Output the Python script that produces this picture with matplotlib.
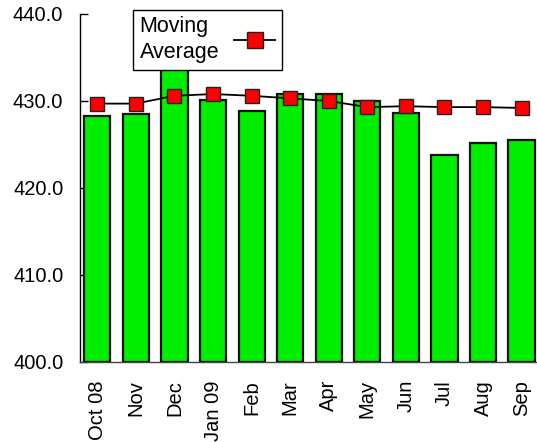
import matplotlib
matplotlib.use("Agg")
import matplotlib.pyplot as plt
from matplotlib.lines import Line2D

plt.rcParams['font.family'] = ['Liberation Sans', 'DejaVu Sans']

months = ["Oct 08", "Nov", "Dec", "Jan 09", "Feb", "Mar", "Apr", "May", "Jun", "Jul", "Aug", "Sep"]
monthly = [428.3, 428.5, 436.0, 430.1, 428.9, 430.8, 430.8, 430.0, 428.6, 423.8, 425.2, 425.5]
moving_avg = [429.7, 429.7, 430.6, 430.8, 430.6, 430.3, 430.0, 429.3, 429.4, 429.3, 429.3, 429.2]
y_ticks = [400.0, 410.0, 420.0, 430.0, 440.0]

fig = plt.figure(figsize=(5.37, 4.42), dpi=100)
ax = fig.add_axes([80/537, 1 - 362/442, (537 - 80)/537, (362 - 14)/442])

x = list(range(len(months)))
ax.bar(x, [v - 400 for v in monthly], bottom=400, width=0.68,
       color="#00ee00", edgecolor="#111111", linewidth=1.6, zorder=2)
ax.plot(x, moving_avg, color="black", linewidth=1.3, marker="s", markersize=9.5,
        markerfacecolor="#ff0000", markeredgecolor="#222222", markeredgewidth=1.0, zorder=3)

ax.set_ylim(400, 440)
ax.set_xlim(-0.45, 11.4)
ax.set_yticks(y_ticks)
ax.set_yticklabels([f"{t:.1f}" for t in y_ticks], fontsize=14.5)
ax.set_xticks(x)
ax.set_xticklabels(months, rotation=90, fontsize=14.5)
ax.tick_params(axis="x", length=0, pad=13)
ax.tick_params(axis="y", length=6, width=1, direction="in", pad=12)
for s in ("top", "right"):
    ax.spines[s].set_visible(False)
ax.spines["left"].set_linewidth(1)
ax.spines["bottom"].set_color("#444444")
ax.spines["bottom"].set_linewidth(1)

handle = Line2D([], [], color="black", linewidth=1.3, marker="s", markersize=11,
                markerfacecolor="#ff0000", markeredgecolor="#222222")
leg = fig.legend([handle], ["Moving\nAverage"], loc="upper left",
                 bbox_to_anchor=(133/537, 1 - 10/442), fontsize=15.5,
                 frameon=True, fancybox=False, markerfirst=False, framealpha=1,
                 handlelength=1.9, borderpad=0.3, handletextpad=0.7,
                 borderaxespad=0)
leg.get_texts()[0].set_linespacing(1.3)
leg.get_frame().set_edgecolor("black")
leg.get_frame().set_linewidth(1)
leg.set_zorder(5)

fig.savefig("out.png", dpi=100)
